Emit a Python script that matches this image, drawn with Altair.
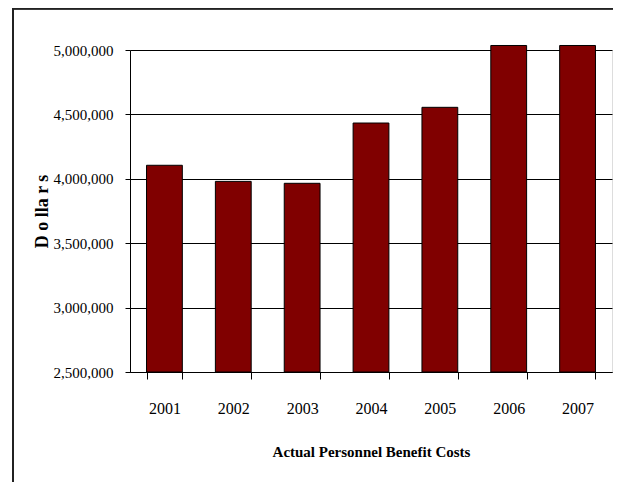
import altair as alt
import pandas as pd

years = ["2001", "2002", "2003", "2004", "2005", "2006", "2007"]
costs = [4105000, 3980000, 3965000, 4433000, 4555000, 5035000, 5035000]
y_ticks = [2500000, 3000000, 3500000, 4000000, 4500000, 5000000]

df = pd.DataFrame({"Year": years, "Cost": costs})

FONT = "Liberation Serif"

bars = alt.Chart(df).mark_bar(
    color="#800000", stroke="black", strokeWidth=1, clip=False
).encode(
    x=alt.X("Year:N", sort=years,
            scale=alt.Scale(paddingInner=0.48, paddingOuter=0.24),
            axis=alt.Axis(title="Actual Personnel Benefit Costs", labelAngle=0,
                          tickBand="extent", tickSize=7, tickColor="black",
                          domainColor="black", labelFont=FONT, labelFontSize=16,
                          labelColor="black", labelPadding=21,
                          titleFont=FONT, titleFontSize=15, titleFontWeight="bold",
                          titleColor="black", titlePadding=28, grid=False)),
    y=alt.Y("Cost:Q",
            scale=alt.Scale(domain=[2500000, 5000000], nice=False, zero=False),
            axis=alt.Axis(title="D o lla r s", values=y_ticks, format=",d",
                          tickSize=5, tickColor="black", domainColor="black",
                          grid=True, gridColor="black", gridOpacity=1, gridWidth=1,
                          labelFont=FONT, labelFontSize=15, labelColor="black",
                          labelPadding=12, titleFont=FONT, titleFontSize=18,
                          titleFontWeight="bold", titleColor="black",
                          titlePadding=2)),
    y2=alt.datum(2500000),
)

border = alt.Chart(df).mark_rect(
    fill=None, stroke="#222", strokeWidth=1.5, clip=False
).encode(
    x=alt.value(-117), x2=alt.value(520), y=alt.value(-41.5), y2=alt.value(440)
)

chart = alt.layer(border, bars).properties(
    width=482, height=322,
    autosize=alt.AutoSizeParams(type="none"),
    padding={"left": 122, "top": 42, "right": 1, "bottom": 110},
).configure_view(stroke=None).configure(background="white")

chart.save("out.html", embed_options={"renderer": "svg", "actions": False})
